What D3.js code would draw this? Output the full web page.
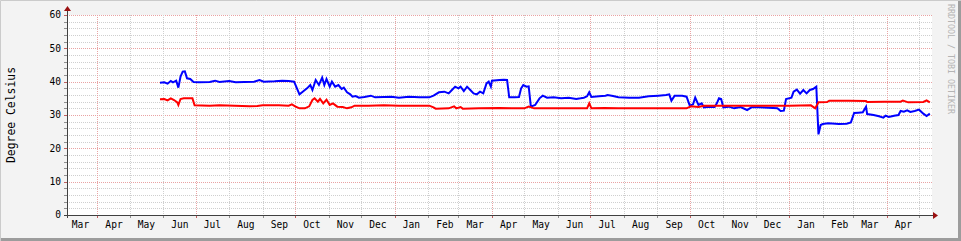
<!DOCTYPE html>
<html>
<head>
<meta charset="utf-8">
<script src="https://cdn.jsdelivr.net/npm/d3@7"></script>
<style>
  body { margin: 0; background: #fff; }
  svg { display: block; }
  text { font-family: "DejaVu Sans Mono", monospace; }
</style>
</head>
<body>
<svg id="chart" width="961" height="241"></svg>
<script>
// y axis
const yTicks = [0, 10, 20, 30, 40, 50, 60];
const yTitle = "Degree Celsius";
const watermark = "RRDTOOL / TOBI OETIKER";

// blue series (upper temperature)
const blueDates = [
  "2021-05-29","2021-06-02","2021-06-05","2021-06-08","2021-06-10","2021-06-13","2021-06-15","2021-06-17",
  "2021-06-19","2021-06-21","2021-06-23","2021-06-26","2021-06-29","2021-07-04","2021-07-14","2021-07-19",
  "2021-07-23","2021-08-01","2021-08-07","2021-08-15","2021-08-24","2021-08-29","2021-09-02","2021-09-12",
  "2021-09-19","2021-09-25","2021-09-30","2021-10-02","2021-10-05","2021-10-08","2021-10-12","2021-10-15",
  "2021-10-17","2021-10-20","2021-10-23","2021-10-26","2021-10-28","2021-10-30","2021-11-02","2021-11-04",
  "2021-11-07","2021-11-10","2021-11-13","2021-11-15","2021-11-18","2021-11-21","2021-11-23","2021-11-26",
  "2021-11-29","2021-12-04","2021-12-10","2021-12-14","2021-12-22","2021-12-29","2022-01-05","2022-01-14",
  "2022-01-24","2022-02-02","2022-02-06","2022-02-11","2022-02-16","2022-02-20","2022-02-23","2022-02-26",
  "2022-03-01","2022-03-03","2022-03-06","2022-03-09","2022-03-12","2022-03-15","2022-03-18","2022-03-21",
  "2022-03-24","2022-03-27","2022-03-29","2022-03-31","2022-04-01","2022-04-08","2022-04-12","2022-04-15",
  "2022-04-17","2022-04-22","2022-04-26","2022-04-28","2022-04-30","2022-05-03","2022-05-05","2022-05-07",
  "2022-05-11","2022-05-15","2022-05-18","2022-05-22","2022-05-28","2022-06-04","2022-06-11","2022-06-18",
  "2022-06-22","2022-06-25","2022-06-28","2022-06-30","2022-07-02","2022-07-09","2022-07-15","2022-07-17",
  "2022-07-22","2022-07-27","2022-08-06","2022-08-15","2022-08-24","2022-09-02","2022-09-09","2022-09-12",
  "2022-09-14","2022-09-17","2022-09-24","2022-09-28","2022-10-01","2022-10-04","2022-10-06","2022-10-09",
  "2022-10-12","2022-10-14","2022-10-19","2022-10-24","2022-10-26","2022-10-28","2022-10-30","2022-11-01",
  "2022-11-06","2022-11-11","2022-11-17","2022-11-23","2022-11-27","2022-12-04","2022-12-13","2022-12-21",
  "2022-12-24","2022-12-27","2022-12-29","2023-01-03","2023-01-05","2023-01-08","2023-01-11","2023-01-14",
  "2023-01-17","2023-01-20","2023-01-23","2023-01-26","2023-01-28","2023-01-30","2023-02-01","2023-02-06",
  "2023-02-16","2023-02-23","2023-02-27","2023-03-02","2023-03-06","2023-03-10","2023-03-13","2023-03-14",
  "2023-03-20","2023-03-25","2023-03-29","2023-03-31","2023-04-03","2023-04-08","2023-04-12","2023-04-14",
  "2023-04-17","2023-04-20","2023-04-23","2023-04-27","2023-05-01","2023-05-05","2023-05-08","2023-05-11"
];
const blueTemps = [
  39.7,39.8,39.4,40.2,39.8,40.3,38.2,41.5,
  43.0,43.1,41.0,40.8,39.9,39.8,39.9,40.3,
  39.9,40.2,39.8,39.9,40.0,40.5,40.0,40.1,
  40.3,40.2,40.0,38.5,36.2,37.0,38.0,39.0,
  37.5,40.5,39.0,41.2,39.0,40.8,38.5,40.0,
  38.5,39.0,37.8,38.2,36.8,36.2,35.5,35.7,
  35.2,35.4,35.8,35.3,35.4,35.5,35.2,35.5,
  35.3,35.3,35.8,36.8,37.0,36.5,37.5,38.5,
  38.0,38.5,37.2,38.5,37.5,36.5,36.2,37.0,
  36.5,39.5,40.0,38.5,40.3,40.5,40.6,40.5,
  35.3,35.3,35.4,38.0,39.0,38.5,38.6,32.5,
  33.0,35.0,35.8,35.2,35.3,35.0,35.2,34.8,
  35.0,35.2,35.6,36.8,35.4,35.6,35.8,36.0,
  35.7,35.3,35.2,35.2,35.6,35.8,36.0,36.2,
  34.3,35.8,35.8,35.5,32.8,33.2,35.2,33.0,
  33.5,32.3,32.5,32.4,33.5,35.0,34.8,32.3,
  32.5,32.0,32.4,31.5,32.3,32.3,32.2,32.0,
  31.2,31.3,34.8,35.2,37.0,37.6,36.4,37.5,
  36.5,37.5,37.8,38.5,24.2,27.0,27.3,27.5,
  27.3,27.4,27.8,30.6,30.7,30.8,32.5,30.3,
  30.0,29.6,29.2,29.8,29.4,29.8,30.0,31.2,
  31.0,31.4,30.9,31.2,31.6,30.4,29.7,30.4
];

// red series (lower temperature)
const redDates = [
  "2021-05-29","2021-06-02","2021-06-05","2021-06-08","2021-06-11","2021-06-14","2021-06-15","2021-06-17",
  "2021-06-20","2021-06-25","2021-06-28","2021-06-30","2021-07-14","2021-07-23","2021-08-06","2021-08-20",
  "2021-08-27","2021-09-01","2021-09-16","2021-09-25","2021-09-28","2021-10-01","2021-10-05","2021-10-10",
  "2021-10-14","2021-10-17","2021-10-19","2021-10-22","2021-10-24","2021-10-27","2021-10-30","2021-11-02",
  "2021-11-05","2021-11-09","2021-11-14","2021-11-18","2021-11-22","2021-11-25","2021-12-08","2021-12-22",
  "2022-01-05","2022-01-24","2022-02-02","2022-02-06","2022-02-08","2022-02-20","2022-02-25","2022-02-27",
  "2022-03-03","2022-03-05","2022-03-20","2022-04-08","2022-05-01","2022-05-05","2022-05-10","2022-06-02",
  "2022-06-28","2022-06-30","2022-07-02","2022-07-14","2022-07-27","2022-09-02","2022-09-28","2022-10-02",
  "2022-10-09","2022-10-14","2022-10-28","2022-12-04","2023-01-01","2023-01-21","2023-01-25","2023-01-28",
  "2023-02-05","2023-02-07","2023-02-25","2023-03-13","2023-03-14","2023-03-30","2023-04-14","2023-04-16",
  "2023-04-21","2023-05-05","2023-05-08","2023-05-11"
];
const redTemps = [
  34.7,34.8,34.4,35.0,34.5,33.8,33.0,34.8,
  35.0,35.0,35.0,32.9,32.8,32.9,32.8,32.6,
  32.7,32.9,32.9,32.8,33.2,32.6,32.0,32.0,
  32.6,34.5,35.0,34.0,34.8,33.5,34.6,33.0,
  33.5,32.5,32.4,32.0,32.3,32.8,32.8,32.9,
  32.8,32.8,32.8,32.3,31.9,32.0,32.6,32.0,
  32.4,31.9,32.0,32.1,32.0,32.5,32.0,32.0,
  32.0,33.5,32.0,32.1,32.0,32.0,32.0,32.6,
  32.4,32.8,32.8,32.8,32.8,32.9,32.0,33.8,
  33.9,34.3,34.3,34.2,33.9,34.0,34.0,34.3,
  33.8,33.9,34.4,33.8
];

const W = 961, H = 241;
const plot = { left: 67, right: 932, top: 15, bottom: 215 };

const parse = d3.utcParse("%Y-%m-%d");
const x = d3.scaleUtc()
  .domain([Date.UTC(2021, 2, 4), Date.UTC(2023, 4, 13)])
  .range([plot.left, plot.right]);
const y = d3.scaleLinear().domain([0, 60]).range([plot.bottom, plot.top]);

const svg = d3.select("#chart");

// canvas + frame
svg.append("rect").attr("width", W).attr("height", H).attr("fill", "#f3f3f3");
svg.append("rect")
  .attr("x", plot.left).attr("y", plot.top)
  .attr("width", plot.right - plot.left).attr("height", plot.bottom - plot.top)
  .attr("fill", "#fff");
svg.append("path").attr("d", `M0.5,${H} V0.5 H${W}`).attr("fill", "none")
  .attr("stroke", "#cbcbcb").attr("stroke-width", 1);
svg.append("path").attr("d", `M1,${H - 1.5} H${W - 1.5} V1`).attr("fill", "none")
  .attr("stroke", "#9c9c9c").attr("stroke-width", 3);

const grid = svg.append("g").attr("shape-rendering", "crispEdges");

// horizontal grid, every 2 degrees, major every 10
d3.range(2, 61, 2).forEach(v => {
  const major = v % 10 === 0;
  grid.append("line")
    .attr("x1", plot.left).attr("x2", plot.right)
    .attr("y1", Math.round(y(v)) + 0.5).attr("y2", Math.round(y(v)) + 0.5)
    .attr("stroke", major ? "#e9a3a3" : "#cfcfcf")
    .attr("stroke-dasharray", "1,1");
});

// vertical grid, every month, major every quarter
const months = d3.utcMonth.range(d3.utcMonth.floor(x.domain()[0]), x.domain()[1]);
const monthStarts = d3.utcMonth.range(d3.utcMonth.ceil(x.domain()[0]), x.domain()[1]);
monthStarts.forEach(d => {
  const major = d.getUTCMonth() % 3 === 0;
  const px = Math.round(x(d)) + 0.5;
  grid.append("line")
    .attr("x1", px).attr("x2", px)
    .attr("y1", plot.top).attr("y2", plot.bottom)
    .attr("stroke", major ? "#e9a3a3" : "#cfcfcf")
    .attr("stroke-dasharray", "1,1");
  grid.append("line")
    .attr("x1", px).attr("x2", px)
    .attr("y1", plot.bottom).attr("y2", plot.bottom + 3)
    .attr("stroke", major ? "#c06060" : "#909090");
});

// y ticks on the axis
d3.range(0, 61, 2).forEach(v => {
  grid.append("line")
    .attr("x1", plot.left - 3).attr("x2", plot.left)
    .attr("y1", Math.round(y(v)) + 0.5).attr("y2", Math.round(y(v)) + 0.5)
    .attr("stroke", v % 10 === 0 ? "#c06060" : "#909090");
});

// data lines
const line = d3.line().x(d => x(d[0])).y(d => y(d[1]));
const blue = blueDates.map((d, i) => [parse(d), blueTemps[i]]);
const red = redDates.map((d, i) => [parse(d), redTemps[i]]);

svg.append("path").datum(blue).attr("d", line)
  .attr("fill", "none").attr("stroke", "#0000ff").attr("stroke-width", 2)
  .attr("stroke-linejoin", "miter");
svg.append("path").datum(red).attr("d", line)
  .attr("fill", "none").attr("stroke", "#ff0000").attr("stroke-width", 2)
  .attr("stroke-linejoin", "miter");

// axes
const axis = svg.append("g").attr("shape-rendering", "crispEdges");
axis.append("line")
  .attr("x1", plot.left - 3).attr("x2", plot.right + 2)
  .attr("y1", plot.bottom + 0.5).attr("y2", plot.bottom + 0.5)
  .attr("stroke", "#404040");
axis.append("line")
  .attr("x1", plot.left + 0.5).attr("x2", plot.left + 0.5)
  .attr("y1", plot.bottom + 3).attr("y2", plot.top - 5)
  .attr("stroke", "#404040");
svg.append("path")
  .attr("d", `M${plot.right + 1},${plot.bottom - 3} L${plot.right + 6},${plot.bottom + 0.5} L${plot.right + 1},${plot.bottom + 4} Z`)
  .attr("fill", "#9a1010");
svg.append("path")
  .attr("d", `M${plot.left - 3},${plot.top - 4} L${plot.left + 0.5},${plot.top - 9} L${plot.left + 4},${plot.top - 4} Z`)
  .attr("fill", "#9a1010");

// y labels
svg.append("g").selectAll("text").data(yTicks).join("text")
  .attr("x", plot.left - 6).attr("y", d => y(d))
  .attr("dy", "0.35em")
  .attr("text-anchor", "end")
  .attr("font-size", "9.6px")
  .attr("fill", "#000")
  .text(d => d);

// month labels, centred mid-month
const fmt = d3.utcFormat("%b");
svg.append("g").selectAll("text")
  .data(months.map(m => new Date(m.getTime() + 15.5 * 864e5)).filter(d => x(d) > plot.left && x(d) < plot.right))
  .join("text")
  .attr("x", d => x(d)).attr("y", 228)
  .attr("text-anchor", "middle")
  .attr("font-size", "9.6px")
  .attr("fill", "#000")
  .text(d => fmt(d));

// axis title
svg.append("text")
  .attr("transform", `translate(15,${(plot.top + plot.bottom) / 2}) rotate(-90)`)
  .attr("text-anchor", "middle")
  .attr("font-size", "11.4px")
  .attr("fill", "#000")
  .text(yTitle);

// watermark
svg.append("text")
  .attr("transform", `translate(948,4) rotate(90)`)
  .attr("font-size", "8.3px")
  .attr("fill", "#b4b4b4")
  .text(watermark);
</script>
</body>
</html>
